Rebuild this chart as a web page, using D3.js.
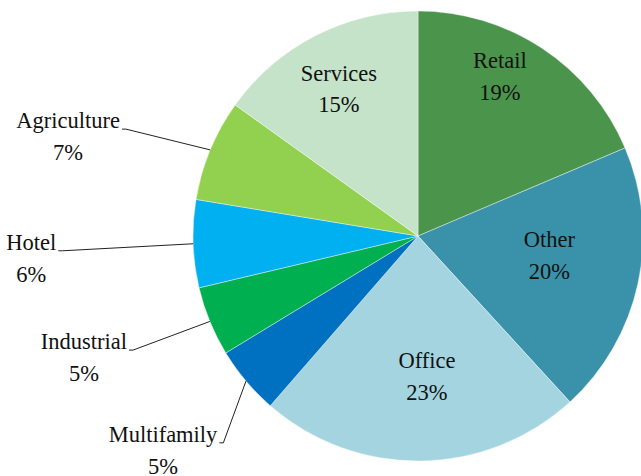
<html>
<head>
<script src="https://d3js.org/d3.v7.min.js"></script>
<style>
body { margin: 0; background: #fff; }
</style>
</head>
<body>
<svg width="641" height="476"></svg>
<script>
// sectors, clockwise from 12 o'clock
var sectors = ['Retail', 'Other', 'Office', 'Multifamily', 'Industrial', 'Hotel', 'Agriculture', 'Services'];
var shares = [18.6, 19.6, 23.2, 4.9, 5.0, 6.3, 7.3, 15.1];
var colors = ['#4b944b', '#3a92aa', '#a4d4e0', '#0070c0', '#00b050', '#00b0f0', '#92d050', '#c4e3c8'];

// which labels sit outside with a leader line
var outside = ['Multifamily', 'Industrial', 'Hotel', 'Agriculture'];

// label placement: [angle shift from slice middle (deg), distance from centre]
var labelSpot = {
  Retail: [-6.1, 178], Other: [-3.3, 133], Office: [-2.9, 142], Services: [-1.3, 166],
  Multifamily: [-6.6, 284], Industrial: [0.5, 307], Hotel: [-0.4, 356], Agriculture: [-2.4, 311]
};

var cx = 418, cy = 236, r = 225;

var svg = d3.select('svg');
var g = svg.append('g')
  .attr('transform', 'translate(' + cx + ',' + cy + ')')
  .style('font-family', '"Liberation Serif", "Times New Roman", serif')
  .style('font-size', '22.5px')
  .attr('fill', '#111');

var data = sectors.map(function(s, i) { return { name: s, value: shares[i], color: colors[i] }; });

var pie = d3.pie().sort(null).value(function(d) { return d.value; });
var arc = d3.arc().innerRadius(0).outerRadius(r);
var arcs = pie(data);

g.selectAll('path.slice')
  .data(arcs)
  .enter()
  .append('path')
  .attr('class', 'slice')
  .attr('d', arc)
  .attr('fill', function(d) { return d.data.color; })
  .attr('stroke', '#fff')
  .attr('stroke-width', 0.4);

function polar(angle, dist) {
  return [dist * Math.sin(angle), -dist * Math.cos(angle)];
}

arcs.forEach(function(d) {
  var name = d.data.name;
  var mid = (d.startAngle + d.endAngle) / 2;
  var spot = labelSpot[name];
  var ang = mid + spot[0] * Math.PI / 180;
  var p = polar(ang, spot[1]);
  var pct = Math.round(d.data.value) + '%';

  if (outside.indexOf(name) < 0) {
    g.append('text').attr('x', p[0]).attr('y', p[1] - 9.5)
      .attr('text-anchor', 'middle').text(name);
    g.append('text').attr('x', p[0]).attr('y', p[1] + 22)
      .attr('text-anchor', 'middle').text(pct);
  } else {
    var edge = polar(mid, r);
    g.append('polyline')
      .attr('points', [edge, p, [p[0] - 4, p[1]]].map(function(q) { return q.join(','); }).join(' '))
      .attr('fill', 'none')
      .attr('stroke', '#222')
      .attr('stroke-width', 1);
    var t = g.append('text').attr('x', p[0] - 6).attr('y', p[1] - 1)
      .attr('text-anchor', 'end').text(name);
    var w = t.node().getComputedTextLength();
    g.append('text').attr('x', p[0] - 6 - w / 2).attr('y', p[1] + 31)
      .attr('text-anchor', 'middle').text(pct);
  }
});
</script>
</body>
</html>
